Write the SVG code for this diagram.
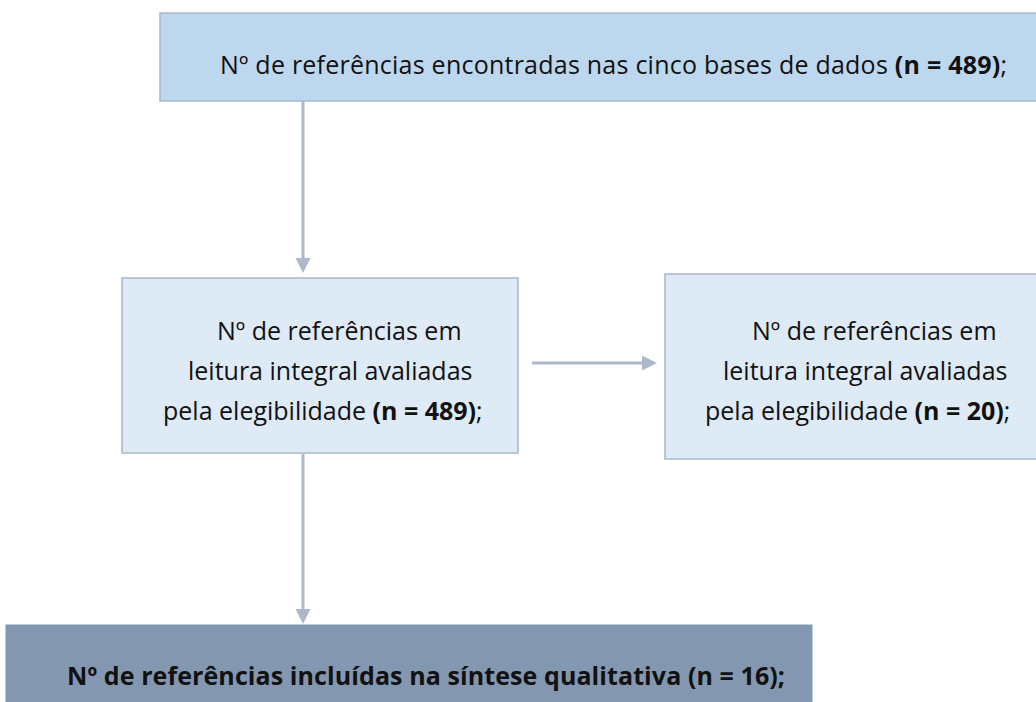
<svg xmlns="http://www.w3.org/2000/svg" width="1036" height="702" viewBox="0 0 1036 702">
<style>
.t{font-family:"Open Sans","Noto Sans","Liberation Sans",sans-serif;font-size:25px;fill:#111}
.b{font-weight:bold}
.conn{stroke:#ADB9CA;stroke-width:3;fill:none}
</style>
<defs>
<marker id="ah" markerWidth="5" markerHeight="5" refX="4" refY="2.5" orient="auto" markerUnits="strokeWidth">
<path d="M0,0 L5,2.5 L0,5 Z" fill="#ADB9CA"/>
</marker>
</defs>
<rect width="1036" height="702" fill="#fff"/>
<g id="connectors">
<line class="conn" x1="303" y1="101" x2="303" y2="270" marker-end="url(#ah)"/>
<line class="conn" x1="532" y1="363" x2="654" y2="363" marker-end="url(#ah)"/>
<line class="conn" x1="303" y1="454" x2="303" y2="621" marker-end="url(#ah)"/>
</g>
<g id="n1">
<rect x="160" y="13" width="880" height="88" fill="#BDD7EE" stroke="#A9B8CC" stroke-width="1.5"/>
<text class="t" x="220" y="74" textLength="787">Nº de referências encontradas nas cinco bases de dados <tspan class="b">(n = 489)</tspan>;</text>
</g>
<g id="n2">
<rect x="122" y="278" width="396" height="175" fill="#DEEAF6" stroke="#A9B8CC" stroke-width="1.5"/>
<text class="t"><tspan x="217" y="340">Nº de referências em</tspan><tspan x="188" y="380">leitura integral avaliadas</tspan><tspan x="163" y="420">pela elegibilidade <tspan class="b">(n = 489)</tspan>;</tspan></text>
</g>
<g id="n3">
<rect x="665" y="274" width="400" height="185" fill="#DEEAF6" stroke="#A9B8CC" stroke-width="1.5"/>
<text class="t"><tspan x="752" y="340">Nº de referências em</tspan><tspan x="723" y="380">leitura integral avaliadas</tspan><tspan x="705" y="420">pela elegibilidade <tspan class="b">(n = 20)</tspan>;</tspan></text>
</g>
<g id="n4">
<rect x="6" y="625" width="806" height="80" fill="#8497B0" stroke="#8497B0" stroke-width="1"/>
<text class="t b" x="67" y="685" textLength="718">Nº de referências incluídas na síntese qualitativa (n = 16);</text>
</g>
</svg>
